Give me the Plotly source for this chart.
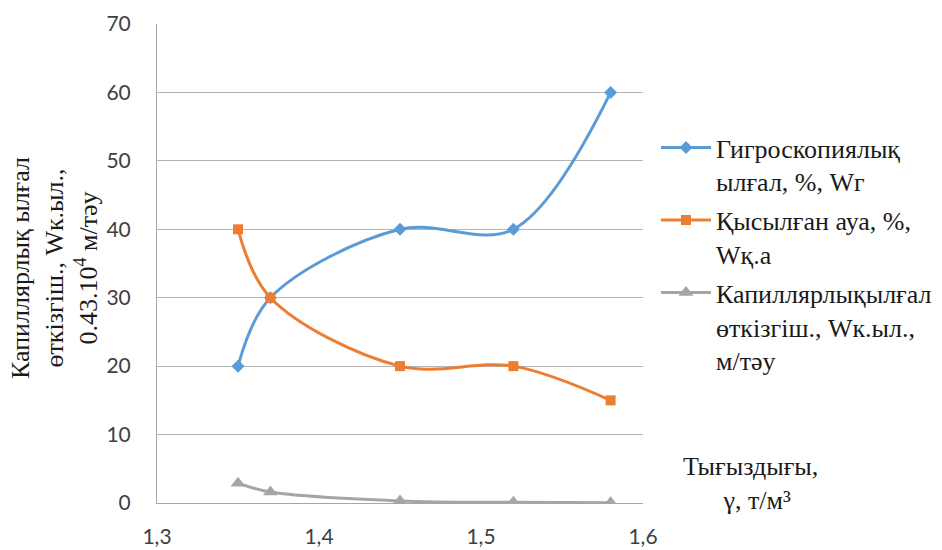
import plotly.graph_objects as go

density = [1.35, 1.37, 1.45, 1.52, 1.58]
hygro = [20, 30, 40, 40, 60]
air = [40, 30, 20, 20, 15]
capil = [2.9, 1.6, 0.3, 0.1, 0.05]

names = [
    "Гигроскопиялық<br>ылғал, %, Wг",
    "Қысылған ауа, %,<br>Wқ.а",
    "Капиллярлықылғал<br>өткізгіш., Wк.ыл.,<br>м/тәу",
]
colors = ["#5b9bd5", "#ed7d31", "#a5a5a5"]
symbols = ["diamond", "square", "triangle-up"]
sizes = [10, 10, 13]
series = [hygro, air, capil]

SERIF = "Liberation Serif"
SANS = "Lato"

fig = go.Figure()
for i, (nm, ys) in enumerate(zip(names, series)):
    fig.add_trace(go.Scatter(
        x=density, y=ys, name=nm, mode="lines+markers",
        line=dict(color=colors[i], width=3, shape="spline", smoothing=1.0),
        marker=dict(color=colors[i], symbol=symbols[i], size=sizes[i]),
        legendgroup=str(i),
    ))

W, H = 942, 550
L, R, T, B = 157, 299, 24, 47
pw, ph = W - L - R, H - T - B

fig.update_layout(
    width=W, height=H,
    margin=dict(l=L, r=R, t=T, b=B, autoexpand=False),
    paper_bgcolor="white", plot_bgcolor="white",
    separators=", ",
    font=dict(family=SANS, size=21, color="#404040"),
    xaxis=dict(range=[1.3, 1.6], dtick=0.1, tick0=1.3, tickformat=".1f",
               showgrid=False, zeroline=False, showline=True, linecolor="#a6a6a6",
               linewidth=1, ticks="", ticklabelstandoff=15, automargin=False,
               tickfont=dict(family=SANS, size=21, color="#404040")),
    yaxis=dict(range=[0, 70], dtick=10, showgrid=True, gridcolor="#b4b4b4", gridwidth=1,
               zeroline=False, showline=True, linecolor="#a6a6a6", linewidth=1,
               ticks="", ticklabelstandoff=21, automargin=False,
               tickfont=dict(family=SANS, size=21, color="#404040")),
    legend=dict(x=(656 - L) / pw, y=(503 - 124) / ph, xanchor="left", yanchor="top",
                font=dict(family=SERIF, size=26, color="#1a1a1a"),
                valign="top", tracegroupgap=2, itemwidth=50, bgcolor="rgba(0,0,0,0)"),
    showlegend=True,
)

fig.add_annotation(
    text="Капиллярлық ылғал<br>өткізгіш., Wк.ыл.,<br>0.43.10<sup>4</sup> м/тәу",
    xref="paper", yref="paper", x=(54 - L) / pw, y=(503 - 268) / ph,
    xanchor="center", yanchor="middle", textangle=-90, showarrow=False,
    font=dict(family=SERIF, size=26, color="#1a1a1a"), align="center",
)
fig.add_annotation(
    text="Тығыздығы,<br>  γ, т/м³",
    xref="paper", yref="paper", x=(750 - L) / pw, y=(503 - 483) / ph,
    xanchor="center", yanchor="middle", showarrow=False,
    font=dict(family=SERIF, size=26, color="#1a1a1a"), align="center",
)

fig.write_html("out.html", config={"displayModeBar": False},
               post_script="document.body.style.margin='0px';")
